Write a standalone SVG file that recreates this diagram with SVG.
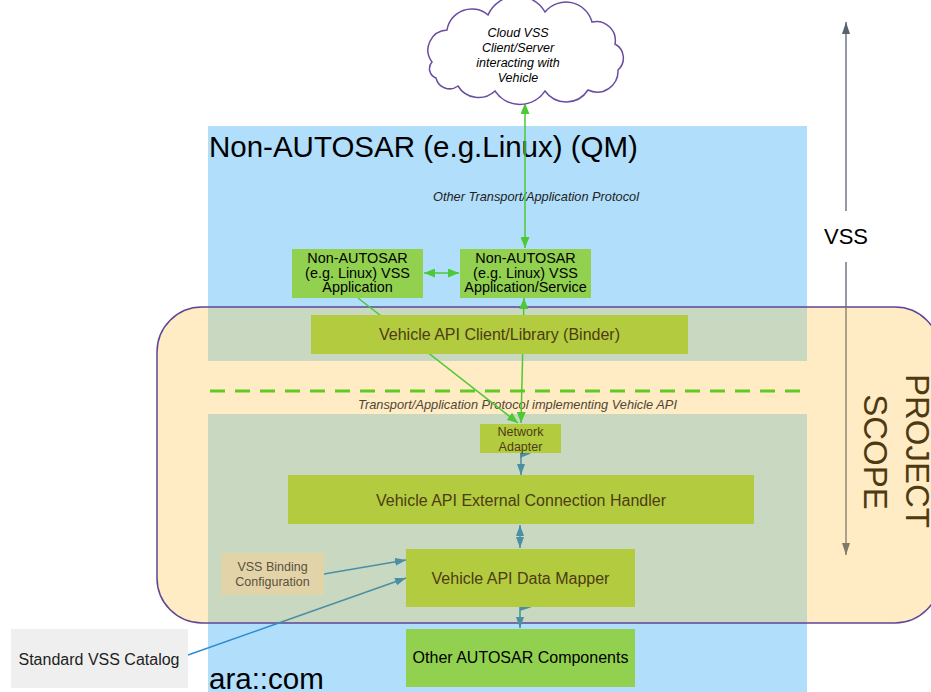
<svg xmlns="http://www.w3.org/2000/svg" width="931" height="692" viewBox="0 0 931 692">
<style>
text{font-family:"Liberation Sans",Arial,sans-serif}
.blue{fill:#b0defb}
.ovl{fill:#c8d8c1}
.grn{fill:#92d050}
.olv{fill:#b3cb3f}
.t-blk{fill:#000}
.t-brn{fill:#4d3c14}
.gline{stroke:#4cc934;stroke-width:1.5;fill:none}
.tline{stroke:#4a8fa3;stroke-width:1.5;fill:none}
.it{font-style:italic}
</style>
<defs>
<marker id="ga" markerUnits="userSpaceOnUse" markerWidth="11" markerHeight="9" refX="11" refY="4.5" orient="auto-start-reverse"><path d="M0,0 L11,4.5 L0,9 z" fill="#4cc934"/></marker>
<marker id="ta" markerUnits="userSpaceOnUse" markerWidth="11" markerHeight="8" refX="11" refY="4" orient="auto-start-reverse"><path d="M0,0 L11,4 L0,8 z" fill="#4a8fa3"/></marker>
<marker id="ka" markerUnits="userSpaceOnUse" markerWidth="12" markerHeight="8" refX="12" refY="4" orient="auto-start-reverse"><path d="M0,0 L12,4 L0,8 z" fill="#5a6270"/></marker>
<marker id="kb" markerUnits="userSpaceOnUse" markerWidth="12" markerHeight="8" refX="12" refY="4" orient="auto-start-reverse"><path d="M0,0 L12,4 L0,8 z" fill="#807a68"/></marker>
</defs>

<g id="backgrounds">
<rect class="blue" x="208" y="126" width="599" height="235"/>
<rect class="blue" x="208" y="414" width="599" height="278"/>
<rect x="157" y="307" width="783" height="316" rx="45" ry="45" fill="#ffebc4"/>
<rect class="ovl" x="208" y="307" width="599" height="54"/>
<rect class="ovl" x="208" y="414" width="599" height="209"/>
<rect x="157" y="307" width="783" height="316" rx="45" ry="45" fill="none" stroke="#5e4596" stroke-width="1.5"/>
<line x1="210" y1="391" x2="807" y2="391" stroke="#5fcb22" stroke-width="3" stroke-dasharray="15 10"/>
<text x="209" y="157" font-size="29.5" class="t-blk">Non-AUTOSAR (e.g.Linux) (QM)</text>
<text x="209" y="689" font-size="29.5" class="t-blk">ara::com</text>
<text x="536" y="201" font-size="12.8" class="it" fill="#222" text-anchor="middle">Other Transport/Application Protocol</text>
<text x="517.5" y="409" font-size="12.8" class="it" fill="#4f4636" text-anchor="middle">Transport/Application Protocol implementing Vehicle API</text>
<text transform="translate(906,451) rotate(90)" font-size="33" text-anchor="middle" fill="#4d3a12">PROJECT</text>
<text transform="translate(864,452) rotate(90)" font-size="33" text-anchor="middle" fill="#4d3a12">SCOPE</text>
</g>

<g id="connectors">
<line x1="525" y1="103" x2="525" y2="248" class="gline" marker-start="url(#ga)" marker-end="url(#ga)"/>
<line x1="424" y1="273" x2="459" y2="273" class="gline" marker-start="url(#ga)" marker-end="url(#ga)"/>
<line x1="524" y1="298" x2="521" y2="423" class="gline" marker-start="url(#ga)" marker-end="url(#ga)"/>
<line x1="358" y1="298" x2="518" y2="423" class="gline" marker-end="url(#ga)"/>
<line x1="521" y1="453" x2="521" y2="475" class="tline" marker-end="url(#ta)"/>
<polygon points="520,449 531,453.5 520,458" fill="#4a8fa3"/>
<line x1="520" y1="525" x2="520" y2="548" class="tline" marker-start="url(#ta)" marker-end="url(#ta)"/>
<line x1="520" y1="607" x2="520" y2="628" class="tline" marker-end="url(#ta)"/>
<polygon points="520,603 532,607 520,611" fill="#4a8fa3"/>
<line x1="324" y1="574" x2="406" y2="560" class="tline" marker-end="url(#ta)"/>
<line x1="188" y1="655" x2="278.6" y2="623" stroke="#2f8bd0" stroke-width="1.5"/>
<line x1="278.6" y1="623" x2="406" y2="578" class="tline" marker-end="url(#ta)"/>
<line x1="846" y1="22" x2="846" y2="211" stroke="#5a6270" stroke-width="1.3" marker-start="url(#ka)"/>
<line x1="846" y1="262" x2="846" y2="307" stroke="#5a6270" stroke-width="1.3"/>
<line x1="846" y1="307" x2="846" y2="555" stroke="#807a68" stroke-width="1.3" marker-end="url(#kb)"/>
<text x="846" y="244" font-size="22" class="t-blk" text-anchor="middle">VSS</text>
</g>

<g id="cloud">
<path d="M432,62 A20,20 0 0 1 447,30 A25,25 0 0 1 488,15 A32,32 0 0 1 545,12 A27,27 0 0 1 592,22 A19,19 0 0 1 615,44 A16,16 0 0 1 618,70 A21,21 0 0 1 588,90 A26,26 0 0 1 545,91 A30,30 0 0 1 495,91 A24,24 0 0 1 458,86 A14,14 0 0 1 436,78 A10,10 0 0 1 432,62 Z" fill="#fff" stroke="#6a4ca0" stroke-width="1.5"/>
<g font-size="12.5" class="it t-blk" text-anchor="middle">
<text x="518" y="37">Cloud VSS</text>
<text x="518" y="52">Client/Server</text>
<text x="518" y="67">interacting with</text>
<text x="518" y="82">Vehicle</text>
</g>
</g>

<g id="vss-app">
<rect class="grn" x="292" y="249" width="131" height="49"/>
<g font-size="14.4" class="t-blk" text-anchor="middle">
<text x="357.5" y="263">Non-AUTOSAR</text>
<text x="357.5" y="277.5">(e.g. Linux) VSS</text>
<text x="357.5" y="292">Application</text>
</g>
</g>

<g id="vss-service">
<rect class="grn" x="460" y="249" width="131" height="49"/>
<g font-size="14.4" class="t-blk" text-anchor="middle">
<text x="525.5" y="263">Non-AUTOSAR</text>
<text x="525.5" y="277.5">(e.g. Linux) VSS</text>
<text x="525.5" y="292">Application/Service</text>
</g>
</g>

<g id="client-library">
<rect class="olv" x="311" y="315" width="377" height="39"/>
<text x="499.5" y="340" font-size="16" class="t-brn" text-anchor="middle">Vehicle API Client/Library (Binder)</text>
</g>

<g id="network-adapter">
<rect class="olv" x="480" y="424" width="81" height="29"/>
<text x="520.5" y="436" font-size="12.5" class="t-brn" text-anchor="middle">Network</text>
<text x="520.5" y="451" font-size="12.5" class="t-brn" text-anchor="middle">Adapter</text>
</g>

<g id="connection-handler">
<rect class="olv" x="288" y="475" width="466" height="49"/>
<text x="521" y="506" font-size="16" class="t-brn" text-anchor="middle">Vehicle API External Connection Handler</text>
</g>

<g id="data-mapper">
<rect class="olv" x="406" y="549" width="229" height="58"/>
<text x="520.5" y="584" font-size="16" class="t-brn" text-anchor="middle">Vehicle API Data Mapper</text>
</g>

<g id="binding-config">
<rect x="221" y="553" width="103" height="42" fill="#e2d4a8"/>
<text x="272.5" y="571" font-size="12.5" fill="#5a5040" text-anchor="middle">VSS Binding</text>
<text x="272.5" y="586" font-size="12.5" fill="#5a5040" text-anchor="middle">Configuration</text>
</g>

<g id="other-autosar">
<rect class="grn" x="406" y="629" width="229" height="58"/>
<text x="520.5" y="663" font-size="16" class="t-blk" text-anchor="middle">Other AUTOSAR Components</text>
</g>

<g id="vss-catalog">
<rect x="11" y="629" width="177" height="59" fill="#efefef"/>
<text x="99" y="665" font-size="16" fill="#222" text-anchor="middle">Standard VSS Catalog</text>
</g>
</svg>
